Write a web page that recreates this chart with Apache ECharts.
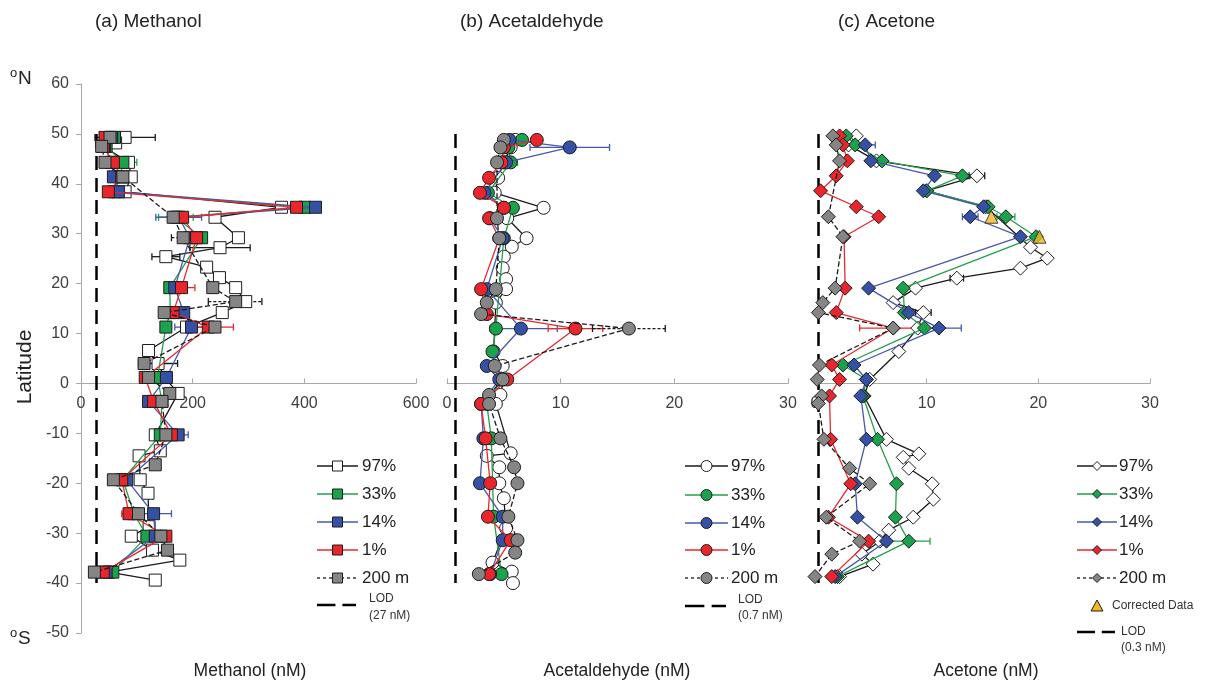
<!DOCTYPE html>
<html><head><meta charset="utf-8">
<script src="https://cdn.jsdelivr.net/npm/echarts@6/dist/echarts.min.js"></script>
<style>html,body{margin:0;padding:0;background:#fff}#c{width:1212px;height:685px}</style>
</head><body><div id="c"></div>
<script>
// ---------------- DATA ([value, latitude]) ----------------
const seriesNames = ['97%', '33%', '14%', '1%', '200 m'];
const latTicks = [-50, 60, 10];

// (a) Methanol (nM)
const methanol97 = [[79,49.3],[62,48.2],[40,47.5],[85,44.3],[90,41.4],[79,38.4],[359,35.3],[240,33.3],[282,29.2],[249,27.2],[152,25.4],[225,23.3],[248,21.2],[277,19.2],[295,16.4],[253,14.2],[189,11.3],[121,6.6],[138,4.0],[150,1.2],[174,-2.0],[133,-10.3],[142,-13.5],[104,-14.5],[106,-19.3],[120,-22.0],[122,-28.7],[90,-30.6],[128,-33.4],[177,-35.4],[50,-37.8],[133,-39.4]];
const methanol33 = [[60,49.3],[45,47.5],[75,44.3],[70,41.4],[60,38.4],[401,35.3],[170,33.3],[216,29.2],[159,19.2],[160,14.2],[152,11.3],[137,1.2],[145,-3.6],[142,-10.3],[75,-19.3],[95,-26.1],[118,-30.6],[57,-37.8]];
const methanol14 = [[55,49.3],[42,47.5],[55,44.3],[58,41.4],[67,38.4],[420,35.3],[175,33.3],[195,29.2],[168,19.2],[184,14.2],[198,11.3],[153,1.2],[121,-3.6],[174,-10.3],[82,-19.3],[130,-26.1],[133,-30.6],[45,-37.8]];
const methanol1 = [[43,49.3],[40,47.5],[58,44.3],[73,41.4],[49,38.4],[386,35.3],[182,33.3],[207,29.2],[180,19.2],[165,14.2],[228,11.3],[115,1.2],[130,-3.6],[162,-10.3],[73,-19.3],[86,-26.1],[152,-30.6],[40,-37.8]];
const methanol200 = [[52,49.3],[37,47.5],[43,44.3],[75,41.4],[165,33.3],[183,29.2],[236,19.2],[277,16.4],[149,14.2],[240,11.3],[113,4.0],[121,1.2],[159,-2.0],[145,-3.6],[152,-10.3],[133,-16.3],[58,-19.3],[103,-26.1],[143,-30.6],[155,-33.4],[24,-37.8]];
// error bars [lat, low, high]
const methanolErr97 = [[49.3,25,133],[27.2,195,303],[25.4,127,177],[4.0,103,173]];
const methanolErr33 = [[44.3,46,100],[33.3,139,201]];
const methanolErr14 = [[33.3,134,216],[11.3,168,228],[-10.3,156,192],[-26.1,98,162]];
const methanolErr1 = [[19.2,156,204],[11.3,183,273],[-26.1,73,99]];
const methanolErr200 = [[29.2,162,204],[16.4,228,324]];

// (b) Acetaldehyde (nM)
const acetal97 = [[6.0,48.8],[5.6,47.3],[5.0,44.3],[4.5,41.2],[4.2,38.2],[8.5,35.2],[5.3,33.1],[7.0,29.1],[5.7,27.4],[5.0,25.4],[4.9,23.1],[5.2,20.9],[5.2,18.9],[4.3,16.2],[4.1,6.4],[4.9,3.5],[5.0,0.8],[4.7,-2.3],[4.3,-4.1],[5.6,-14.0],[3.5,-14.5],[4.6,-16.8],[4.6,-20.0],[5.0,-23.0],[5.2,-29.0],[4.0,-35.9],[5.7,-37.7],[5.8,-40.0]];
const acetal33 = [[6.6,48.8],[5.4,47.3],[5.6,44.3],[3.6,38.2],[5.8,35.2],[5.0,29.1],[4.3,11.0],[4.0,6.4],[4.8,0.8],[3.5,-4.1],[3.9,-11.0],[4.1,-26.7],[4.8,-38.2]];
const acetal14 = [[5.5,48.8],[10.8,47.3],[5.2,44.3],[3.3,38.2],[5.0,35.2],[3.8,33.1],[4.9,29.1],[3.5,18.9],[6.5,11.0],[3.5,3.5],[4.6,0.8],[3.0,-4.1],[3.2,-11.0],[2.9,-20.0],[4.9,-26.7],[4.9,-31.4],[3.8,-38.2]];
const acetal1 = [[7.9,48.8],[5.0,47.3],[4.8,44.3],[3.7,41.2],[2.9,38.2],[5.0,35.2],[3.7,33.1],[4.6,29.1],[3.0,18.9],[3.5,13.9],[11.3,11.0],[5.3,0.8],[3.0,-4.1],[3.4,-11.0],[3.8,-20.0],[3.6,-26.7],[5.6,-31.4],[3.7,-38.2]];
const acetal200 = [[5.0,48.8],[4.7,47.3],[4.4,44.3],[4.4,33.1],[4.6,29.1],[4.3,18.9],[3.5,16.2],[3.0,13.9],[16.0,11.0],[4.2,3.5],[4.9,0.8],[3.7,-2.3],[3.7,-4.1],[4.7,-11.0],[5.9,-16.8],[6.2,-20.0],[5.4,-26.7],[6.2,-31.4],[6.0,-33.9],[2.8,-38.2]];
const acetalErr97 = [[29.1,6.5,7.5]];
const acetalErr33 = [[44.3,5.0,6.2]];
const acetalErr14 = [[47.3,7.3,14.3],[11.0,3.8,9.7]];
const acetalErr1 = [[11.0,8.9,13.7]];
const acetalErr200 = [[11.0,12.8,19.2]];

// (c) Acetone (nM)
const acetone97 = [[3.7,49.6],[3.0,47.8],[5.5,44.6],[14.5,41.6],[10.0,38.6],[15.3,35.4],[19.3,27.3],[20.8,25.1],[18.4,23.1],[12.7,21.1],[9.0,19.1],[7.0,16.2],[9.7,14.2],[9.2,11.1],[7.5,6.4],[4.9,0.8],[4.4,-2.5],[6.4,-11.2],[9.3,-14.1],[7.9,-14.8],[8.4,-17.0],[10.5,-20.1],[10.6,-23.2],[8.8,-26.8],[6.6,-29.4],[5.8,-31.6],[4.2,-34.2],[5.2,-36.2],[2.2,-38.7]];
const acetone33 = [[2.8,49.6],[3.6,47.8],[6.0,44.6],[13.2,41.6],[10.0,38.6],[15.5,35.4],[17.1,33.4],[19.8,29.4],[7.9,19.1],[8.0,14.2],[9.8,11.1],[2.5,3.7],[4.6,0.8],[4.3,-2.5],[5.6,-11.2],[7.3,-20.1],[7.2,-26.8],[8.4,-31.6],[2.0,-38.7]];
const acetone14 = [[4.5,47.8],[5.0,44.6],[10.7,41.6],[9.7,38.6],[15.1,35.4],[13.9,33.4],[18.4,29.4],[4.8,19.1],[8.4,14.2],[11.1,11.1],[3.5,3.7],[4.6,0.8],[4.1,-2.5],[4.6,-11.2],[3.6,-20.1],[3.8,-26.8],[6.4,-31.6],[1.8,-38.7]];
const acetone1 = [[2.2,49.6],[2.5,47.8],[2.9,44.6],[1.9,41.6],[0.5,38.6],[3.7,35.4],[5.7,33.4],[2.6,29.4],[2.7,19.1],[1.9,14.2],[7.0,11.1],[1.5,3.7],[2.2,0.8],[1.3,-2.5],[1.4,-11.2],[3.2,-20.1],[1.2,-26.8],[4.8,-31.6],[1.5,-38.7]];
const acetone200 = [[1.6,49.6],[1.9,47.8],[2.2,44.6],[1.2,33.4],[2.5,29.4],[1.8,19.1],[0.7,16.2],[0.3,14.2],[7.0,11.1],[0.4,3.7],[0.2,0.8],[0.6,-2.5],[0.3,-4.0],[0.8,-11.2],[3.1,-17.0],[4.9,-20.1],[1.0,-26.8],[4.0,-31.6],[1.5,-34.2],[0.0,-38.7]];
const acetoneCorrected = [[15.8,33.4],[20.1,29.4]];
const acetoneErr97 = [[41.6,13.8,15.2],[21.1,12.1,13.3],[14.2,9.0,10.4]];
const acetoneErr33 = [[33.4,16.3,17.9],[-31.6,6.5,10.3]];
const acetoneErr14 = [[47.8,3.6,5.4],[33.4,13.2,14.6],[11.1,9.1,13.1]];
const acetoneErr1 = [[11.1,4.0,10.0]];
const acetoneErr200 = [];

// limits of detection and their latitude span
const lodValues = [27, 0.7, 0.3];
const lodLabels = ['(27 nM)', '(0.7 nM)', '(0.3 nM)'];
const lodLatSpan = [50, -40];

const panelTitles = ['(a) Methanol', '(b) Acetaldehyde', '(c) Acetone'];
const axisTitles = ['Methanol (nM)', 'Acetaldehyde (nM)', 'Acetone (nM)'];
const xRanges = [[0, 600, 200], [0, 30, 10], [0, 30, 10]];

// ---------------- STYLE / LAYOUT ----------------
const FONT = 'Liberation Sans, Arial, Helvetica, sans-serif';
const styles = [
  {line:'#1a1a1a', fill:'#ffffff', type:'solid'},
  {line:'#22a04b', fill:'#1ba34b', type:'solid'},
  {line:'#4658ad', fill:'#3551a5', type:'solid'},
  {line:'#e8282d', fill:'#e8262b', type:'solid'},
  {line:'#1a1a1a', fill:'#858585', type:'dashed'}
];
const panels = [
  {data:[methanol97,methanol33,methanol14,methanol1,methanol200], err:[methanolErr97,methanolErr33,methanolErr14,methanolErr1,methanolErr200], symbol:'rect', size:12},
  {data:[acetal97,acetal33,acetal14,acetal1,acetal200], err:[acetalErr97,acetalErr33,acetalErr14,acetalErr1,acetalErr200], symbol:'circle', size:13},
  {data:[acetone97,acetone33,acetone14,acetone1,acetone200], err:[acetoneErr97,acetoneErr33,acetoneErr14,acetoneErr1,acetoneErr200], symbol:'diamond', size:14}
];
const GRID_TOP = 84, GRID_H = 549;
const grids = [
  {left:81, top:GRID_TOP, width:335, height:GRID_H},
  {left:447, top:GRID_TOP, width:341, height:GRID_H},
  {left:815, top:GRID_TOP, width:335, height:GRID_H}
];
// distance from the grid bottom up to latitude 0 (so the x axis crosses at the equator)
const zeroOffset = -GRID_H * (0 - latTicks[0]) / (latTicks[1] - latTicks[0]);

const axisColor = '#a8a8a8';
const labelColor = '#404040';

const xAxes = [], yAxes = [], series = [];
panels.forEach((p, pi) => {
  xAxes.push({
    gridIndex: pi, type:'value', min:xRanges[pi][0], max:xRanges[pi][1], interval:xRanges[pi][2],
    position:'bottom', offset: zeroOffset,
    axisLine:{show:true, onZero:false, lineStyle:{color:axisColor, width:1}},
    axisTick:{show:true, inside:true, length:5, lineStyle:{color:axisColor}},
    axisLabel:{show:true, fontSize:16, color:labelColor, margin:12, fontFamily:FONT},
    splitLine:{show:false}
  });
  yAxes.push({
    gridIndex: pi, type:'value', min:latTicks[0], max:latTicks[1], interval:latTicks[2],
    axisLine:{show: pi===0, onZero:false, lineStyle:{color:axisColor, width:1}},
    axisTick:{show: pi===0, inside:false, length:5, lineStyle:{color:axisColor}},
    axisLabel:{show: pi===0, fontSize:16, color:labelColor, margin:12, fontFamily:FONT},
    splitLine:{show:false}
  });
  // error bars
  p.err.forEach((errData, si) => {
    if (!errData.length) return;
    const col = styles[si].line;
    series.push({
      type:'custom', xAxisIndex:pi, yAxisIndex:pi, silent:true, z:1,
      data: errData, encode:{x:[1,2], y:0},
      renderItem: (params, api) => {
        const lat = api.value(0), lo = api.value(1), hi = api.value(2);
        const a = api.coord([lo, lat]), b = api.coord([hi, lat]);
        const h = 3.5;
        const st = {stroke:col, lineWidth:1.3, lineDash: si===4 ? [3,2] : null};
        const cs = {stroke:col, lineWidth:1.3};
        return {type:'group', children:[
          {type:'line', shape:{x1:a[0], y1:a[1], x2:b[0], y2:b[1]}, style:st},
          {type:'line', shape:{x1:a[0], y1:a[1]-h, x2:a[0], y2:a[1]+h}, style:cs},
          {type:'line', shape:{x1:b[0], y1:b[1]-h, x2:b[0], y2:b[1]+h}, style:cs}
        ]};
      }
    });
  });
  // data lines
  p.data.forEach((d, si) => {
    const s = styles[si];
    const ser = {
      type:'line', name:seriesNames[si], xAxisIndex:pi, yAxisIndex:pi, data:d,
      symbol:p.symbol, symbolSize:p.size, showSymbol:true, showAllSymbol:true,
      z: 3 + si, silent:true, animation:false,
      itemStyle:{color:s.fill, borderColor:'#1e1e1e', borderWidth:1},
      lineStyle:{color:s.line, width:1.3, type:s.type},
      emphasis:{disabled:true}
    };
    if (si === 0) {
      ser.markLine = {
        silent:true, symbol:'none', animation:false, label:{show:false},
        lineStyle:{color:'#000', type:[14,8], width:2.5},
        data:[[{coord:[lodValues[pi], lodLatSpan[0]]}, {coord:[lodValues[pi], lodLatSpan[1]]}]]
      };
    }
    series.push(ser);
  });
});
// corrected data triangles
series.push({
  type:'scatter', name:'Corrected Data', xAxisIndex:2, yAxisIndex:2, data:acetoneCorrected,
  symbol:'triangle', symbolSize:13, z:10, silent:true,
  itemStyle:{color:'#f5b623', borderColor:'#1e1e1e', borderWidth:1}
});

// ---------------- GRAPHIC TEXT & LEGENDS ----------------
const graphic = [];
const titleX = [95, 460, 838];
panelTitles.forEach((t, i) => graphic.push({type:'text', x:titleX[i], y:22, style:{text:t, font:'19px ' + FONT, fill:'#222', textVerticalAlign:'middle'}}));
const axisNameX = [250, 617, 986];
axisTitles.forEach((t, i) => graphic.push({type:'text', x:axisNameX[i], y:671, style:{text:t, font:'17.5px ' + FONT, fill:'#222', textAlign:'center', textVerticalAlign:'middle'}}));
graphic.push({type:'text', x:25, y:367, rotation:Math.PI/2, style:{text:'Latitude', font:'21px ' + FONT, fill:'#222', textAlign:'center', textVerticalAlign:'middle'}});
graphic.push({type:'text', x:10, y:67, style:{text:'o', font:'13px ' + FONT, fill:'#222'}});
graphic.push({type:'text', x:18, y:69, style:{text:'N', font:'19px ' + FONT, fill:'#222'}});
graphic.push({type:'text', x:10, y:627, style:{text:'o', font:'13px ' + FONT, fill:'#222'}});
graphic.push({type:'text', x:18, y:629, style:{text:'S', font:'19px ' + FONT, fill:'#222'}});

const legendLayouts = [
  {x0:317, x1:358, tx:362, rows:[466,494,522,550,578], lodY:605, lodT1:-6, lodT2:11, lodTextX:369, sym:'rect', ms:10},
  {x0:685, x1:728, tx:731, rows:[466,495,523,550,578], lodY:606, lodT1:-6, lodT2:10, lodTextX:738, sym:'circle', ms:11},
  {x0:1077, x1:1117, tx:1119, rows:[466,494,522,550,578], lodY:632, lodT1:0, lodT2:16, lodTextX:1121, sym:'diamond', ms:9}
];
function markerShape(sym, cx, cy, ms, fill) {
  const st = {fill:fill, stroke:'#1e1e1e', lineWidth:1};
  if (sym === 'rect') return {type:'rect', shape:{x:cx-ms/2, y:cy-ms/2, width:ms, height:ms}, style:st, z:100};
  if (sym === 'circle') return {type:'circle', shape:{cx:cx, cy:cy, r:ms/2}, style:st, z:100};
  return {type:'polygon', shape:{points:[[cx,cy-ms/2],[cx+ms/2,cy],[cx,cy+ms/2],[cx-ms/2,cy]]}, style:st, z:100};
}
legendLayouts.forEach((L, pi) => {
  seriesNames.forEach((nm, si) => {
    const y = L.rows[si], s = styles[si];
    graphic.push({type:'line', shape:{x1:L.x0, y1:y, x2:L.x1, y2:y}, style:{stroke:s.line, lineWidth:1.3, lineDash: s.type==='dashed' ? [3,3] : null}, z:99});
    graphic.push(markerShape(L.sym, (L.x0+L.x1)/2, y, L.ms, s.fill));
    graphic.push({type:'text', x:L.tx, y:y, style:{text:nm, font:'17px ' + FONT, fill:'#222', textVerticalAlign:'middle'}, z:100});
  });
  const ly = L.lodY;
  const w = L.x1 - L.x0;
  graphic.push({type:'line', shape:{x1:L.x0, y1:ly, x2:L.x0 + w*0.45, y2:ly}, style:{stroke:'#000', lineWidth:2.5}, z:99});
  graphic.push({type:'line', shape:{x1:L.x0 + w*0.62, y1:ly, x2:L.x1 - 2, y2:ly}, style:{stroke:'#000', lineWidth:2.5}, z:99});
  graphic.push({type:'text', x:L.lodTextX, y:ly + L.lodT1, style:{text:'LOD', font:'12px ' + FONT, fill:'#333', textVerticalAlign:'middle'}, z:100});
  graphic.push({type:'text', x:L.lodTextX, y:ly + L.lodT2, style:{text:lodLabels[pi], font:'12px ' + FONT, fill:'#333', textVerticalAlign:'middle'}, z:100});
});
// Corrected data legend entry
graphic.push({type:'polygon', shape:{points:[[1097,600],[1103,611],[1091,611]]}, style:{fill:'#f5b623', stroke:'#1e1e1e', lineWidth:1}, z:100});
graphic.push({type:'text', x:1112, y:606, style:{text:'Corrected Data', font:'12px ' + FONT, fill:'#333', textVerticalAlign:'middle'}, z:100});

const chart = echarts.init(document.getElementById('c'), null, {renderer:'canvas'});
chart.setOption({
  animation:false,
  backgroundColor:'#ffffff',
  grid: grids,
  xAxis: xAxes,
  yAxis: yAxes,
  series: series,
  graphic: graphic
});
</script>
</body></html>
